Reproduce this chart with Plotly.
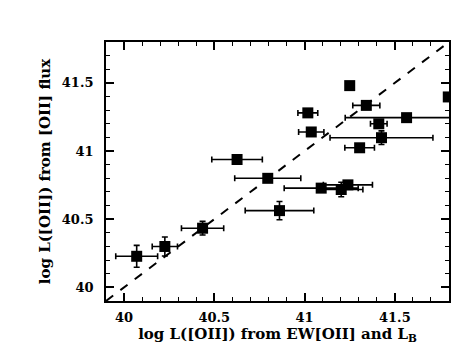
import plotly.graph_objects as go

# Valores
x_ew = [40.07, 40.226, 40.435, 40.626, 40.796, 40.861, 41.092, 41.203, 41.24,
        41.25, 41.796, 41.342, 41.018, 41.565, 41.411, 41.037, 41.426, 41.305]
y_flux = [40.228, 40.30, 40.434, 40.938, 40.80, 40.563, 40.728, 40.718, 40.752,
          41.48, 41.397, 41.335, 41.28, 41.245, 41.20, 41.14, 41.098, 41.024]
x_err = [0.116, 0.07, 0.117, 0.14, 0.183, 0.19, 0.205, 0.12, 0.136,
         0.0, 0.0, 0.075, 0.055, 0.34, 0.046, 0.07, 0.285, 0.082]
y_err = [0.08, 0.07, 0.05, 0.0, 0.0, 0.067, 0.0, 0.053, 0.0,
         0.0, 0.0, 0.0, 0.0, 0.0, 0.0, 0.0, 0.05, 0.0]

diag = [39.9, 41.8]
tick_vals = [40, 40.5, 41, 41.5]
tick_text = ['40', '40.5', '41', '41.5']

font_fam = 'DejaVu Serif, serif'

fig = go.Figure()

# Linea 1:1
fig.add_trace(go.Scatter(
    x=diag, y=diag,
    mode='lines',
    line=dict(color='black', width=2, dash='dash'),
    hoverinfo='skip',
    showlegend=False
))

# Puntos con barras de error
fig.add_trace(go.Scatter(
    x=x_ew, y=y_flux,
    mode='markers',
    marker=dict(symbol='square', size=11, color='black'),
    error_x=dict(type='data', array=x_err, color='black', thickness=1.6, width=3),
    error_y=dict(type='data', array=y_err, color='black', thickness=1.6, width=3),
    showlegend=False,
    cliponaxis=True
))

axis_common = dict(
    range=diag,
    tickvals=tick_vals,
    ticktext=tick_text,
    ticks='inside',
    ticklen=8,
    tickwidth=1.8,
    tickcolor='black',
    showline=True,
    linecolor='black',
    linewidth=1.8,
    mirror='allticks',
    showgrid=False,
    zeroline=False,
    tickfont=dict(family=font_fam, size=13, color='black', weight='bold'),
    minor=dict(dtick=0.1, ticks='inside', ticklen=4, tickwidth=1.4, tickcolor='black'),
)

fig.update_layout(
    width=463, height=360,
    margin=dict(l=98, r=22, t=34, b=67),
    paper_bgcolor='white',
    plot_bgcolor='white',
    xaxis=dict(
        axis_common,
        ticklabelstandoff=3,
        title=dict(text='log L([OII]) from EW[OII] and L<sub>B</sub>',
                   font=dict(family=font_fam, size=15, color='black', weight='bold'),
                   standoff=4),
    ),
    yaxis=dict(
        axis_common,
        ticklabelstandoff=8,
        title=dict(text='log L([OII]) from [OII] flux',
                   font=dict(family=font_fam, size=15, color='black', weight='bold'),
                   standoff=8),
    ),
)

fig.write_html("out.html")
